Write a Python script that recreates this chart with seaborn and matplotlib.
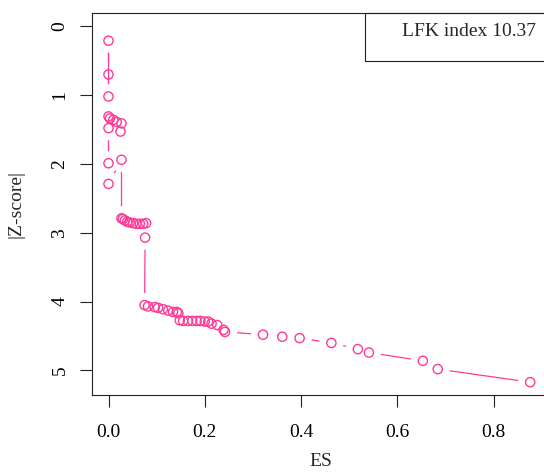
"""
Doi plot (ES vs |Z-score|) with LFK index box
"""

import numpy as np
import pandas as pd
import matplotlib
matplotlib.use('Agg')
import matplotlib.pyplot as plt
from matplotlib.patches import Rectangle
import seaborn as sns

# Data, listed in the order the connecting line visits the points
es = [0.000, 0.000, 0.000, 0.000, 0.003, 0.010, 0.017, 0.027, 0.025, 0.000,
      0.000, 0.000, 0.027, 0.027, 0.030, 0.034, 0.039, 0.044, 0.051, 0.058,
      0.065, 0.072, 0.078, 0.076, 0.075, 0.082, 0.096, 0.103, 0.113, 0.124,
      0.134, 0.142, 0.145, 0.148, 0.155, 0.165, 0.174, 0.183, 0.191, 0.200,
      0.207, 0.214, 0.226, 0.239, 0.242, 0.321, 0.361, 0.397, 0.463, 0.518,
      0.541, 0.653, 0.684, 0.876]
z_score = [0.70, 0.21, 1.02, 1.31, 1.34, 1.36, 1.39, 1.41, 1.53, 1.48,
           1.99, 2.29, 1.94, 2.79, 2.80, 2.82, 2.84, 2.85, 2.86, 2.87,
           2.87, 2.87, 2.86, 3.07, 4.05, 4.07, 4.08, 4.09, 4.11, 4.13,
           4.15, 4.15, 4.17, 4.27, 4.28, 4.28, 4.28, 4.28, 4.28, 4.29,
           4.29, 4.32, 4.34, 4.41, 4.44, 4.48, 4.51, 4.53, 4.60, 4.69,
           4.74, 4.86, 4.98, 5.17]

x_ticks = [0.0, 0.2, 0.4, 0.6, 0.8]
x_tick_labels = ['0.0', '0.2', '0.4', '0.6', '0.8']
y_ticks = [0, 1, 2, 3, 4, 5]
y_tick_labels = ['0', '1', '2', '3', '4', '5']
lfk_index = 10.37

PINK = '#FF3A96'
GAP_PT = 9  # R type="b" style gap around each point

sns.set_style("ticks")
plt.rcParams['font.family'] = ['Liberation Serif', 'DejaVu Serif']

fig = plt.figure(figsize=(5.44, 4.74), dpi=100)
ax = fig.add_axes([0.1691, 0.1667, 0.840, 0.806])
ax.set_xlim(-0.0343, 0.915)
ax.set_ylim(5.356, -0.193)

df = pd.DataFrame({'ES': es, 'Z': z_score})
sns.scatterplot(data=df, x='ES', y='Z', ax=ax, marker='o', s=44,
                facecolors='none', edgecolor=PINK, linewidth=1.0,
                legend=False, zorder=3)

# connecting segments with gaps at the points (skip the ones too short)
pts = ax.transData.transform(np.column_stack([es, z_score]))
min_len = 2 * GAP_PT * fig.dpi / 72.0
for i in range(len(es) - 1):
    if np.hypot(*(pts[i + 1] - pts[i])) <= min_len + 1:
        continue
    ax.annotate('', xy=(es[i + 1], z_score[i + 1]), xytext=(es[i], z_score[i]),
                arrowprops=dict(arrowstyle='-', color=PINK, lw=0.9,
                                shrinkA=GAP_PT, shrinkB=GAP_PT))

ax.set_xticks(x_ticks)
ax.set_xticklabels(x_tick_labels)
ax.set_yticks(y_ticks)
ax.set_yticklabels(y_tick_labels, rotation=90, va='center')
ax.tick_params(axis='both', length=8.6, width=0.8, color='#222222',
               labelsize=14, labelcolor='black')
ax.tick_params(axis='x', pad=12)
ax.tick_params(axis='y', pad=8.4)

for side in ['left', 'right', 'top', 'bottom']:
    ax.spines[side].set_visible(True)
    ax.spines[side].set_color('#222222')
    ax.spines[side].set_linewidth(0.8)

ax.set_xlabel('ES', fontsize=14)
ax.set_ylabel('|Z-score|', fontsize=14)
ax.xaxis.set_label_coords(0.5, -0.153)
ax.yaxis.set_label_coords(-0.147, 0.5)

# legend box in the top right corner
ax.add_patch(Rectangle((0.597, 0.875), 0.45, 0.125, transform=ax.transAxes,
                       fill=False, lw=0.8, edgecolor='#222222', clip_on=False))
ax.text(0.678, 0.940, f'LFK index {lfk_index:.2f}', transform=ax.transAxes,
        fontsize=14, va='baseline', ha='left')

fig.savefig('out.png', dpi=100)
